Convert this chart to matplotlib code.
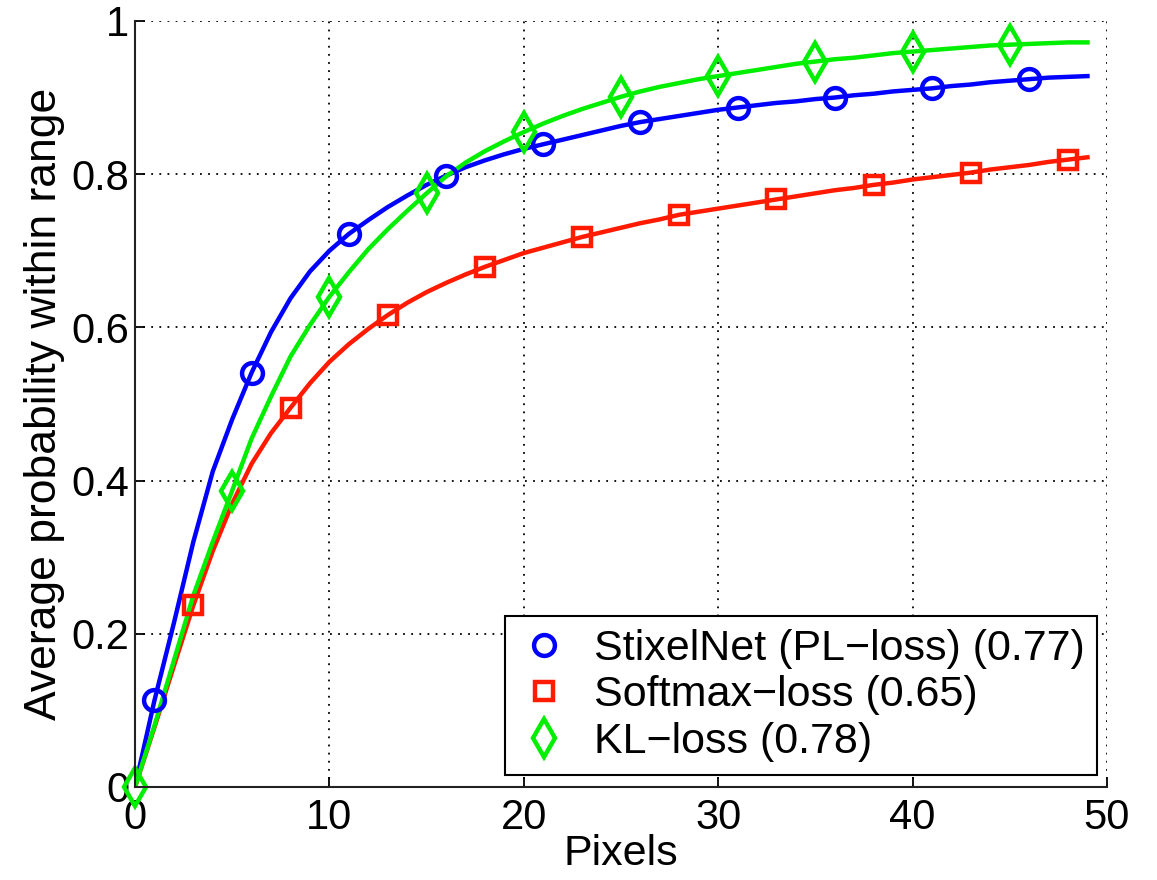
import matplotlib.pyplot as plt
import numpy as np

plt.rcParams['font.family'] = ['Liberation Sans', 'DejaVu Sans']

# average probability of a hit within N pixels, sampled at every pixel
pixels = np.arange(0, 50)

stixelnet = [0.000, 0.113, 0.214, 0.320, 0.412, 0.480, 0.541, 0.594, 0.638, 0.673,
             0.700, 0.722, 0.740, 0.757, 0.772, 0.786, 0.798, 0.809, 0.818, 0.826,
             0.833, 0.839, 0.845, 0.851, 0.857, 0.863, 0.868, 0.872, 0.876, 0.880,
             0.884, 0.887, 0.890, 0.893, 0.895, 0.898, 0.900, 0.903, 0.905, 0.908,
             0.910, 0.912, 0.915, 0.917, 0.920, 0.922, 0.924, 0.926, 0.927, 0.928]

softmax = [0.000, 0.078, 0.158, 0.237, 0.308, 0.370, 0.422, 0.462, 0.495, 0.527,
           0.555, 0.578, 0.598, 0.616, 0.632, 0.646, 0.658, 0.669, 0.679, 0.688,
           0.697, 0.704, 0.711, 0.718, 0.724, 0.730, 0.736, 0.741, 0.747, 0.751,
           0.755, 0.759, 0.763, 0.767, 0.771, 0.775, 0.779, 0.782, 0.786, 0.789,
           0.793, 0.796, 0.799, 0.802, 0.806, 0.809, 0.812, 0.816, 0.819, 0.822]

kl = [0.000, 0.080, 0.165, 0.250, 0.320, 0.387, 0.455, 0.510, 0.562, 0.603,
      0.640, 0.672, 0.702, 0.728, 0.752, 0.775, 0.797, 0.815, 0.830, 0.843,
      0.855, 0.866, 0.876, 0.885, 0.893, 0.901, 0.908, 0.914, 0.919, 0.924,
      0.928, 0.932, 0.936, 0.940, 0.944, 0.947, 0.950, 0.952, 0.955, 0.958,
      0.960, 0.962, 0.964, 0.966, 0.968, 0.969, 0.970, 0.971, 0.972, 0.972]

labels = ['StixelNet (PL\u2212loss) (0.77)', 'Softmax\u2212loss (0.65)', 'KL\u2212loss (0.78)']
colors = ['#0000ff', '#ff1a00', '#00ee00']
markers = ['o', 's', 'd']
mark_start = [1, 3, 0]   # markers every 5 pixels, staggered per curve

fig = plt.figure(figsize=(11.57, 8.8), dpi=100)
ax = fig.add_axes([0.1167, 0.1057, 0.840, 0.8705])

series = [stixelnet, softmax, kl]
msizes = [15, 13, 19]
handles = []
for ys, c, m, s0, ms, lab in zip(series, colors, markers, mark_start, msizes, labels):
    ys = np.array(ys)
    ax.plot(pixels, ys, color=c, lw=3.2, zorder=3)
    idx = np.arange(s0, len(pixels), 5)
    h, = ax.plot(pixels[idx], ys[idx], ls='none', marker=m, ms=ms, mew=3.2,
                 mfc='none', mec=c, zorder=4, label=lab, clip_on=False)
    handles.append(h)

ax.set_xlim(0, 50)
ax.set_ylim(0, 1)
ax.set_xticks(range(0, 51, 10))
ax.set_yticks([0, 0.2, 0.4, 0.6, 0.8, 1])
ax.set_yticklabels(['0', '0.2', '0.4', '0.6', '0.8', '1'])

ax.grid(True, color='black', lw=1.3, ls=(0, (1, 3.5)))
ax.set_axisbelow(True)
for side in ['top', 'right']:
    ax.spines[side].set_visible(False)
for side in ['left', 'bottom']:
    ax.spines[side].set_linewidth(1.5)
    ax.spines[side].set_color('#222222')
    ax.spines[side].set_zorder(5)

ax.tick_params(direction='in', length=7, width=1.3, labelsize=30, pad=4, colors='black')
ax.tick_params(axis='x', pad=8)

ax.set_xlabel('Pixels', fontsize=31, labelpad=-3)
ax.set_ylabel('Average probability within range', fontsize=32, labelpad=5)

leg = ax.legend(handles=handles, loc='lower right', bbox_to_anchor=(0.990, 0.016),
                fontsize=31, frameon=True, fancybox=False, framealpha=1,
                edgecolor='black', handlelength=1.2, handletextpad=0.55,
                labelspacing=0.15, borderpad=0.3, borderaxespad=0)
leg.get_frame().set_linewidth(1.5)
leg.set_zorder(6)

fig.savefig('out.png', dpi=100)
